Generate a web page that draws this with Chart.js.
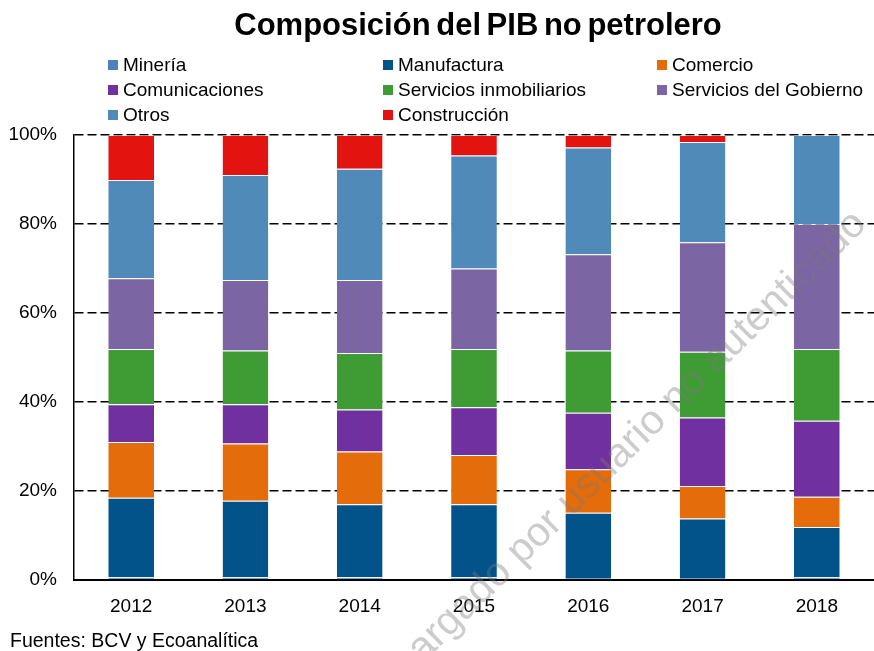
<!DOCTYPE html>
<html lang="es">
<head>
<meta charset="UTF-8">
<title>Composición del PIB no petrolero</title>
<script src="https://cdn.jsdelivr.net/npm/chart.js"></script>
<style>
  body { margin: 0; background: #fff; font-family: "Liberation Sans", Arial, sans-serif; }
  #wrap { position: relative; width: 874px; height: 651px; overflow: hidden; }
  #chart { position: absolute; left: 0; top: 0; }
  #title { position: absolute; top: 7px; left: 0; width: 956px; text-align: center;
           font-weight: bold; font-size: 31px; color: #000; word-spacing: -3px; }
  #legend { position: absolute; top: 54px; left: 0; width: 874px; height: 75px; }
  .item { position: absolute; font-size: 19px; color: #000; white-space: nowrap; line-height: 21px; }
  .item span { display: inline-block; width: 10px; height: 10px; margin-right: 5px; vertical-align: 1px; }
  #source { position: absolute; left: 10px; top: 629px; font-size: 19.5px; color: #000; }
</style>
</head>
<body>
<div id="wrap">
  <canvas id="chart" width="874" height="651"></canvas>
  <div id="title">Composición del PIB no petrolero</div>
  <div id="legend"></div>
  <div id="source">Fuentes: BCV y Ecoanalítica</div>
</div>
<script>
// data (percent of non-oil GDP)
const years = ['2012', '2013', '2014', '2015', '2016', '2017', '2018'];
const mineria        = [0.6, 0.6, 0.6, 0.6, 0.3, 0.3, 0.6];
const manufactura    = [17.9, 17.2, 16.4, 16.4, 14.8, 13.5, 11.3];
const comercio       = [12.5, 12.9, 11.9, 11.1, 9.8, 7.3, 6.8];
const comunicaciones = [8.5, 8.8, 9.4, 10.7, 12.7, 15.4, 17.1];
const inmobiliarios  = [12.4, 12.1, 12.7, 13.1, 14.0, 14.8, 16.1];
const gobierno       = [15.9, 15.8, 16.4, 18.1, 21.6, 24.6, 28.1];
const otros          = [22.1, 23.6, 25.0, 25.4, 24.0, 22.5, 20.0];
const construccion   = [10.1, 9.0, 7.6, 4.6, 2.8, 1.6, 0.0];

const names  = ['Minería', 'Manufactura', 'Comercio', 'Comunicaciones',
                'Servicios inmobiliarios', 'Servicios del Gobierno', 'Otros', 'Construcción'];
const series = [mineria, manufactura, comercio, comunicaciones, inmobiliarios, gobierno, otros, construccion];
const colors = ['#4F81BD', '#01538A', '#E46C0A', '#7030A0', '#3F9C35', '#7B65A3', '#4F8AB8', '#E3140F'];
const yTicks = [0, 20, 40, 60, 80, 100];

// legend, three columns like the original
const legend = document.getElementById('legend');
const colX = [108, 383, 657];
names.forEach((n, i) => {
  const d = document.createElement('div');
  d.className = 'item';
  d.style.left = colX[i % 3] + 'px';
  d.style.top = (Math.floor(i / 3) * 25) + 'px';
  d.innerHTML = '<span style="background:' + colors[i] + '"></span>' + n;
  legend.appendChild(d);
});

const watermark = {
  id: 'watermark',
  afterDraw(chart) {
    const c = chart.ctx;
    c.save();
    c.translate(860, 218);
    c.rotate(-44.5 * Math.PI / 180);
    c.font = '41px "Liberation Sans", Arial, sans-serif';
    c.fillStyle = 'rgba(120,120,120,0.38)';
    c.strokeStyle = 'rgba(120,120,120,0.38)';
    c.lineWidth = 1;
    c.textAlign = 'right';
    c.textBaseline = 'middle';
    c.fillText('Descargado por usuario no autenticado', 0, 0);
    c.restore();
  }
};

const font = { size: 19, family: '"Liberation Sans", Arial' };

new Chart(document.getElementById('chart'), {
  type: 'bar',
  data: {
    labels: years,
    datasets: series.map((s, i) => ({
      label: names[i],
      data: s,
      backgroundColor: colors[i],
      borderColor: 'rgba(255,255,255,0.25)',
      borderWidth: { top: 1 },
      barPercentage: 0.4,
      categoryPercentage: 1
    }))
  },
  options: {
    responsive: false,
    animation: false,
    layout: { padding: { top: 135, left: 0, right: 0, bottom: 0 } },
    plugins: { legend: { display: false }, tooltip: { enabled: false } },
    scales: {
      x: {
        stacked: true,
        afterFit: s => { s.height = 71; },
        grid: { display: false, drawTicks: false },
        border: { color: '#000', width: 2 },
        ticks: { padding: 15, color: '#000', font: font }
      },
      y: {
        stacked: true,
        min: 0, max: 100,
        afterFit: s => { s.width = 74; },
        afterBuildTicks: s => { s.ticks = yTicks.map(v => ({ value: v })); },
        grid: { color: '#000', lineWidth: 1.5, drawTicks: false },
        border: { color: '#000', width: 1.5, dash: [9, 4] },
        ticks: {
          padding: 17, color: '#000', font: font,
          callback: v => v + '%'
        }
      }
    }
  },
  plugins: [watermark]
});
</script>
</body>
</html>
